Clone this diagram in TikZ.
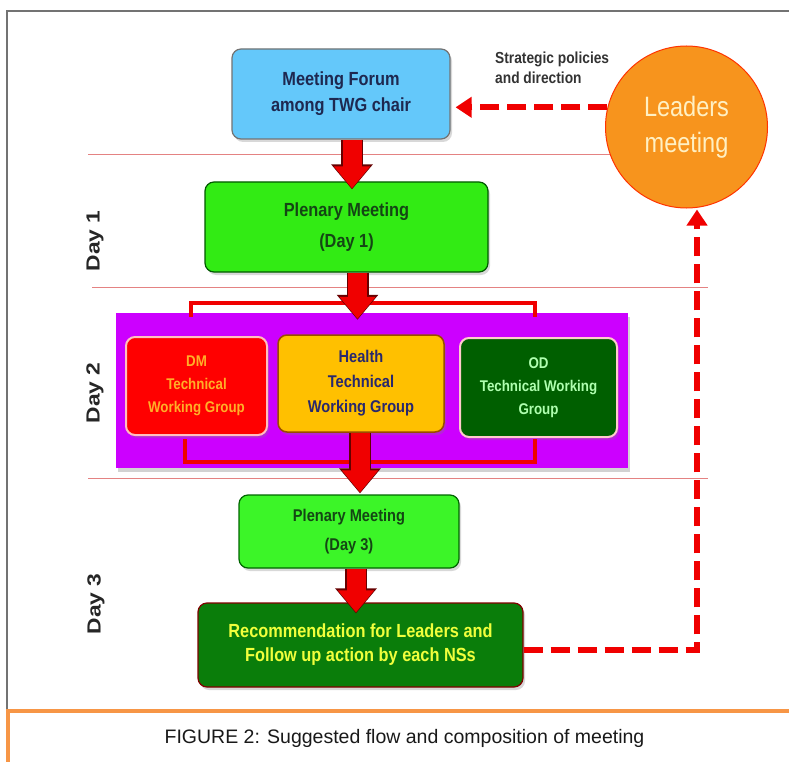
\documentclass[tikz,border=0pt]{standalone}
\usepackage{fontspec}
\setmainfont{Liberation Sans}
\newfontfamily\boldc[FakeStretch=0.86]{Liberation Sans}
\newfontfamily\dayfont[FakeStretch=1.2]{Liberation Sans}
\newfontfamily\leadfont[FakeStretch=0.84]{Liberation Sans}
\usetikzlibrary{arrows.meta,shadows,calc}
\definecolor{skyb}{RGB}{100,200,250}
\definecolor{grnA}{RGB}{50,235,20}
\definecolor{grnB}{RGB}{60,245,40}
\definecolor{recg}{RGB}{10,125,10}
\definecolor{odg}{RGB}{0,95,0}
\definecolor{mag}{RGB}{204,0,255}
\definecolor{hlth}{RGB}{255,192,0}
\definecolor{lorange}{RGB}{247,148,29}
\definecolor{caporange}{RGB}{247,150,70}
\definecolor{navytxt}{RGB}{30,40,80}
\definecolor{dgtxt}{RGB}{20,70,20}
\definecolor{pinkline}{RGB}{228,130,130}
\definecolor{arrred}{RGB}{240,0,0}
\begin{document}
\begin{tikzpicture}[x=1pt,y=-1pt,
  box/.style={rounded corners=9pt, line width=1.2pt, align=center, inner sep=0pt,
    drop shadow={shadow xshift=2pt, shadow yshift=-3pt, opacity=0.3}},
  blkout/.style={draw=black!60!red, line width=22pt, -{Triangle[width=40pt,length=25pt]}},
  blk/.style={draw=arrred, line width=19pt, -{Triangle[width=35pt,length=22pt]}},
  brk/.style={draw=arrred, line width=4pt},
  dsh/.style={draw=arrred, line width=6pt, dash pattern=on 19pt off 8pt, -{Triangle[width=20pt,length=16pt]}},
  sepline/.style={draw=pinkline, line width=1pt},
  daylab/.style={rotate=90, font=\dayfont\bfseries\fontsize{19}{19}\selectfont, text=black!85}
]
\useasboundingbox (0,0) rectangle (789,762);
\fill[white] (0,0) rectangle (789,762);

% frame
\draw[black!55, line width=1.5pt] (7,711) -- (7,11) -- (789,11);
\draw[caporange, line width=4.5pt] (789,711) -- (8,711) -- (8,762);
\node[font=\fontsize{19.5}{20}\selectfont, text=black!90] (cap) at (404.5,738) {FIGURE 2: Suggested flow and composition of meeting};

% separator lines
\draw[sepline] (88,155) -- (708,155);
\draw[sepline] (92,287) -- (708,287);
\draw[sepline] (88,478) -- (708,478);

% day labels
\node[daylab] (d1) at (95,241) {Day 1};
\node[daylab] (d2l) at (95,393) {Day 2};
\node[daylab] (d3) at (96,604) {Day 3};

% boxes
\node[box, fill=skyb, draw=black!55, minimum width=218pt, minimum height=90pt, text=navytxt,
  font=\boldc\bfseries\fontsize{19}{26}\selectfont] (mf) at (341,94) {Meeting Forum\\among TWG chair};

\node[box, fill=grnA, draw=green!35!black, minimum width=283pt, minimum height=90pt, text=dgtxt,
  font=\boldc\bfseries\fontsize{19}{31}\selectfont] (p1) at (346.5,227) {Plenary Meeting\\(Day 1)};

\node[fill=mag, minimum width=512pt, minimum height=155pt, inner sep=0pt,
  drop shadow={shadow xshift=2pt, shadow yshift=-4pt, opacity=0.35}] (d2) at (372,390.5) {};

\node[box, fill=red, draw=red!25!white, line width=2pt, minimum width=141pt, minimum height=98pt,
  text={rgb,255:red,255;green,175;blue,40}, font=\boldc\bfseries\fontsize{15.5}{23}\selectfont] (dm) at (196.5,386) {DM\\Technical\\Working Group};

\node[box, fill=hlth, draw=black!40!orange, line width=1.5pt, minimum width=166pt, minimum height=97pt,
  text={rgb,255:red,40;green,40;blue,110}, font=\boldc\bfseries\fontsize{17}{25}\selectfont] (health) at (361,383.5) {Health\\Technical\\Working Group};

\node[box, fill=odg, draw=red!20!white, line width=2pt, minimum width=157pt, minimum height=99pt,
  text={rgb,255:red,175;green,255;blue,175}, font=\boldc\bfseries\fontsize{15.5}{23}\selectfont] (od) at (538.5,387.5) {OD\\Technical Working\\Group};

\node[box, fill=grnB, draw=green!40!black, minimum width=220pt, minimum height=73pt, text=dgtxt,
  font=\boldc\bfseries\fontsize{17}{29}\selectfont] (p3) at (349,531.5) {Plenary Meeting\\(Day 3)};

\node[box, fill=recg, draw=black!50!red, minimum width=325pt, minimum height=84pt,
  text={rgb,255:red,240;green,255;blue,60}, font=\boldc\bfseries\fontsize{19}{24}\selectfont] (rec) at (360.5,645) {Recommendation for Leaders and\\Follow up action by each NSs};

\node[circle, fill=lorange, draw=red!60!orange, line width=1pt, minimum size=162pt, inner sep=0pt, align=center,
  text={rgb,255:red,255;green,240;blue,195}, font=\leadfont\fontsize{28}{36}\selectfont] (lm) at (686.5,127) {Leaders\\meeting};

\node[anchor=north west, align=left, inner sep=0pt, text=black!80,
  font=\boldc\bfseries\fontsize{16}{20}\selectfont] (sp) at (495,52) {Strategic policies\\and direction};

% brackets
\coordinate (tb) at (363,303);
\coordinate (bb) at (360,462);
\draw[brk] ($(dm.north)+(-5.5,-19)$) |- (tb) -| ($(od.north)+(-3.5,-20)$);
\draw[brk] ($(dm.south)+(-11.5,3)$) |- (bb) -| ($(od.south)+(-3.5,1)$);

% block arrows
\draw[blkout, shorten >=-8pt] ([xshift=11pt]mf.south) -- ([xshift=11pt]mf.south |- p1.north);
\draw[blk, shorten >=-7pt] ([xshift=11pt]mf.south) -- ([xshift=11pt]mf.south |- p1.north);
\draw[blkout, shorten >=-7pt] ([xshift=11pt]p1.south) -- ([xshift=11pt]p1.south |- d2.north);
\draw[blk, shorten >=-6pt] ([xshift=11pt]p1.south) -- ([xshift=11pt]p1.south |- d2.north);
\draw[blkout, shorten >=1pt] ([xshift=-1pt]health.south) -- ([xshift=-1pt]health.south |- p3.north);
\draw[blk, shorten >=2pt] ([xshift=-1pt]health.south) -- ([xshift=-1pt]health.south |- p3.north);
\draw[blkout, shorten >=-11pt] ([xshift=7pt]p3.south) -- ([xshift=7pt]p3.south |- rec.north);
\draw[blk, shorten >=-10pt] ([xshift=7pt]p3.south) -- ([xshift=7pt]p3.south |- rec.north);

% dashed connectors
\draw[dsh, shorten >=5pt] (lm.166) -- (mf.east |- lm.166);
\draw[dsh, shorten >=1pt] ([yshift=-5pt]rec.east) -| ([xshift=10.5pt]lm.south);
\end{tikzpicture}
\end{document}
